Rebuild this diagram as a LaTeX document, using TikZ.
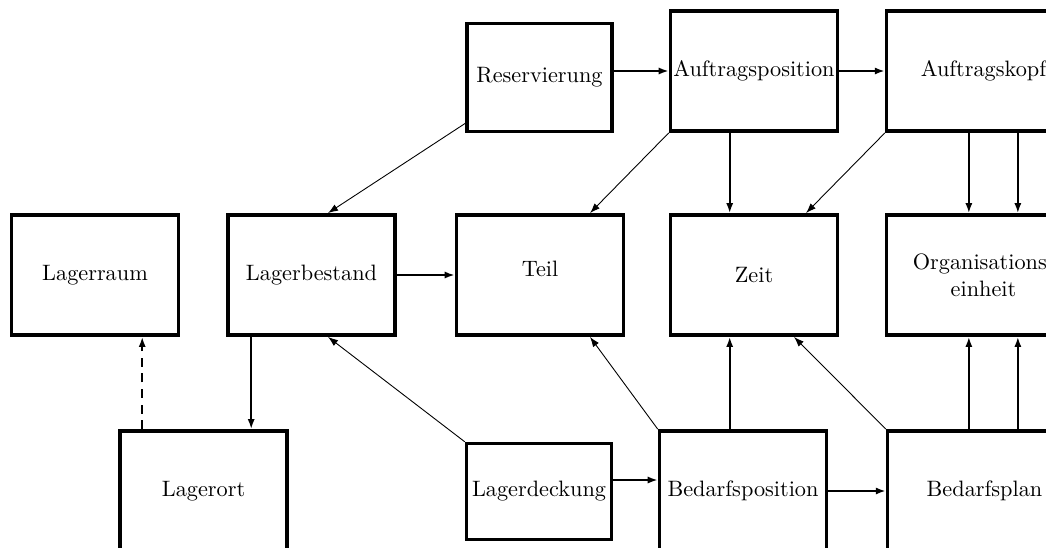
\documentclass[tikz,border=0pt]{standalone}
\usepackage{tikz}
\usetikzlibrary{arrows.meta,calc,positioning}
\tikzstyle{box}=[draw,rectangle,line width=1.6pt,line join=miter,inner sep=0pt,align=center,
  minimum width=75pt,minimum height=54pt]
\tikzstyle{widebox}=[box,minimum width=87pt]
\tikzstyle{smallbox}=[box,minimum width=65pt]
\tikzstyle{thin arrow}=[-{Latex[length=4.5pt,width=3.2pt]},line width=0.4pt]
\tikzstyle{mid arrow}=[-{Latex[length=4.5pt,width=3.2pt]},line width=0.8pt]
\tikzstyle{fat arrow}=[-{Latex[length=4.5pt,width=3.2pt]},line width=1.2pt]

\begin{document}
\begin{tikzpicture}[x=0.449pt,y=-0.449pt]
  \useasboundingbox (0,0) rectangle (1046,547);
  \clip (0,0) rectangle (1046,547);
  % top row
  \node[smallbox,minimum height=48.5pt] (res) at (539.5,77.5) {Reservierung};
  \node[box] (apos) at (754,71) {Auftragsposition};
  \node[widebox] (akopf) at (983.5,71) {Auftragskopf};
  % middle row
  \node[box] (lraum) at (95,275) {Lagerraum};
  \node[box] (lbest) at (311.5,275) {Lagerbestand};
  \node[box,text depth=6pt] (teil) at (540,275) {Teil};
  \node[box] (zeit) at (754,275) {Zeit};
  \node[widebox] (org) at (983.5,275) {Organisations-\\einheit};
  % bottom row
  \node[box] (lort) at (203.5,491) {Lagerort};
  \node[smallbox,minimum height=43pt] (ldeck) at (539,491.5) {Lagerdeckung};
  \node[box] (bpos) at (743,491) {Bedarfsposition};
  \node[widebox] (bplan) at (984.5,491) {Bedarfsplan};

  % horizontal
  \draw[fat arrow] (res.east |- apos.west) -- (apos.west);
  \draw[fat arrow] (apos.east) -- (akopf.west);
  \draw[fat arrow] (lbest.east) -- (teil.west);
  \coordinate (ld) at ($(ldeck.east)+(0,-11.5)$);
  \draw[mid arrow] (ld) -- (ld -| bpos.west);
  \draw[fat arrow] (bpos.east) -- (bpos.east -| bplan.west);

  % vertical
  \coordinate (lb) at ($(lbest.south west)+(25,0)$);
  \draw[mid arrow] (lb) -- (lb |- lort.north);
  \coordinate (lo) at ($(lort.north west)+(24,0)$);
  \draw[mid arrow,dashed,dash pattern=on 4pt off 3pt] (lo) -- (lo |- lraum.south);
  \coordinate (zx) at ($(apos.south west)+(61,0)$);
  \draw[mid arrow] (zx) -- (zx |- zeit.north);
  \draw[mid arrow] (zx |- bpos.north) -- (zx |- zeit.south);
  \foreach \dx in {84,133} {
    \coordinate (ox) at ($(akopf.south west)+(\dx,0)$);
    \draw[mid arrow] (ox) -- (ox |- org.north);
    \draw[mid arrow] (ox |- bplan.north) -- (ox |- org.south);
  }

  % diagonal
  \draw[thin arrow] ($(res.south west)+(0,-10)$) -- ($(lbest.north)+(16.5,0)$);
  \draw[thin arrow] (apos.south west) -- ($(teil.north)+(50,0)$);
  \draw[thin arrow] (akopf.south west) -- ($(zeit.north)+(52,0)$);
  \draw[thin arrow] (ldeck.north west) -- ($(lbest.south)+(16.5,0)$);
  \draw[thin arrow] (bpos.north west) -- ($(teil.south)+(50,0)$);
  \draw[thin arrow] (bplan.north west) -- ($(zeit.south)+(40,0)$);
\end{tikzpicture}
\end{document}
